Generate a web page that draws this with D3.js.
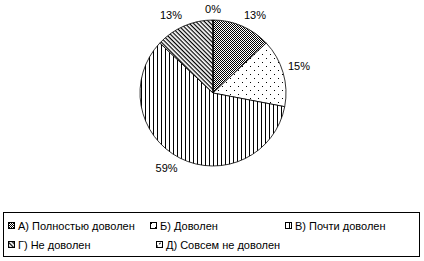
<!DOCTYPE html>
<html>
<head>
<meta charset="utf-8">
<script src="https://cdn.jsdelivr.net/npm/d3@7"></script>
<style>
	body { margin: 0; background: #fff; }
	svg { display: block; font-family: 'Liberation Sans', Arial, sans-serif; }
</style>
</head>
<body>
<svg id="chart" width="424" height="261"></svg>
<script>
const categories = ['А) Полностью доволен', 'Б) Доволен', 'В) Почти доволен', 'Г) Не доволен', 'Д) Совсем не доволен'];
const values = [13, 15, 59, 13, 0];
const patternIds = ['pA', 'pB', 'pC', 'pD', 'pE'];

const width = 424, height = 261;
const cx = 213, cy = 93, r = 73;

const svg = d3.select('#chart');
const defs = svg.append('defs');

// fill patterns (excel style)
const pA = defs.append('pattern').attr('id', 'pA').attr('patternUnits', 'userSpaceOnUse')
	.attr('width', 2).attr('height', 2);
pA.append('rect').attr('width', 2).attr('height', 2).attr('fill', '#fff');
pA.append('rect').attr('width', 1).attr('height', 1).attr('fill', '#000');
pA.append('rect').attr('x', 1).attr('y', 1).attr('width', 1).attr('height', 1).attr('fill', '#000');

const pB = defs.append('pattern').attr('id', 'pB').attr('patternUnits', 'userSpaceOnUse')
	.attr('width', 8).attr('height', 8);
pB.append('rect').attr('width', 8).attr('height', 8).attr('fill', '#fff');
pB.append('rect').attr('x', 1).attr('y', 1).attr('width', 1).attr('height', 1).attr('fill', '#000');
pB.append('rect').attr('x', 5).attr('y', 5).attr('width', 1).attr('height', 1).attr('fill', '#000');

const pC = defs.append('pattern').attr('id', 'pC').attr('patternUnits', 'userSpaceOnUse')
	.attr('width', 4).attr('height', 4);
pC.append('rect').attr('width', 4).attr('height', 4).attr('fill', '#fff');
pC.append('rect').attr('x', 0).attr('width', 1).attr('height', 4).attr('fill', '#000');

const pD = defs.append('pattern').attr('id', 'pD').attr('patternUnits', 'userSpaceOnUse')
	.attr('width', 4).attr('height', 3).attr('patternTransform', 'rotate(45)');
pD.append('rect').attr('width', 4).attr('height', 3).attr('fill', '#fff');
pD.append('rect').attr('width', 4).attr('height', 1.2).attr('fill', '#000');

const pE = defs.append('pattern').attr('id', 'pE').attr('patternUnits', 'userSpaceOnUse')
	.attr('width', 4).attr('height', 4).attr('patternTransform', 'rotate(-45)');
pE.append('rect').attr('width', 4).attr('height', 4).attr('fill', '#fff');
pE.append('rect').attr('width', 2).attr('height', 1).attr('fill', '#000');

const data = categories.map((c, i) => ({ name: c, value: values[i], fill: `url(#${patternIds[i]})` }));
const total = d3.sum(values);

const pie = d3.pie().sort(null).value(d => d.value);
const arcs = pie(data);
const arc = d3.arc().innerRadius(0).outerRadius(r);

const g = svg.append('g').attr('transform', `translate(${cx},${cy})`);

g.selectAll('path.slice').data(arcs).join('path')
	.attr('class', 'slice')
	.attr('d', arc)
	.attr('fill', d => d.data.fill)
	.attr('stroke', '#000')
	.attr('stroke-width', 0.8);

// labels: box edge placed just outside the rim
const labels = g.selectAll('text.lbl').data(arcs).join('text')
	.attr('class', 'lbl')
	.attr('font-size', 11)
	.attr('text-anchor', 'middle')
	.attr('fill', '#000')
	.text(d => `${Math.round(d.data.value / total * 100)}%`);

labels.each(function (d) {
	const el = d3.select(this);
	const w = this.getComputedTextLength();
	const h = 12;
	const a = (d.startAngle + d.endAngle) / 2;
	const s = Math.sin(a), c = Math.cos(a);
	const rr = r + 5;
	const x = rr * s + Math.sign(Math.round(s * 10)) * w / 2;
	const y = -rr * c - Math.sign(Math.round(c * 10) / 10) * h / 2 * Math.min(1, Math.abs(c) * 3);
	el.attr('x', x).attr('y', y + 4);
});

// legend
const legend = svg.append('g');
legend.append('rect')
	.attr('x', 3.5).attr('y', 212.5).attr('width', 416).attr('height', 44)
	.attr('fill', '#fff').attr('stroke', '#000');

const legendPos = [[8, 222], [150, 222], [285, 222], [8, 241], [156, 241]];
const items = legend.selectAll('g.item').data(data).join('g')
	.attr('class', 'item')
	.attr('transform', (d, i) => `translate(${legendPos[i]})`);
items.append('rect')
	.attr('x', 0.5).attr('y', 0.5).attr('width', 6).attr('height', 6)
	.attr('fill', d => d.fill).attr('stroke', '#000').attr('stroke-width', 1);
items.append('text')
	.attr('x', 10).attr('y', 8)
	.attr('font-size', 11)
	.text(d => d.name);
</script>
</body>
</html>
